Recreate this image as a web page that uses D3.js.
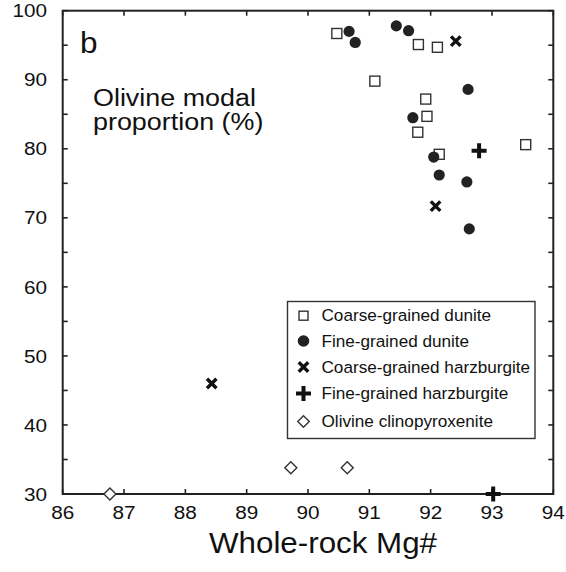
<!DOCTYPE html>
<html><head><meta charset="utf-8">
<script src="https://cdn.jsdelivr.net/npm/d3@7"></script>
<style>body{margin:0;background:#fff}svg{display:block}text{font-family:"Liberation Sans",Arial,sans-serif;fill:#111}</style>
</head><body>
<svg id="c" width="566" height="572"></svg>
<script>
// ---- data ----
const seriesNames = ["Coarse-grained dunite","Fine-grained dunite","Coarse-grained harzburgite","Fine-grained harzburgite","Olivine clinopyroxenite"];
const coarseDuniteX = [90.47, 91.80, 92.11, 91.09, 91.92, 91.94, 91.79, 92.14, 93.55];
const coarseDuniteY = [96.7, 95.1, 94.7, 89.8, 87.2, 84.7, 82.4, 79.2, 80.6];
const fineDuniteX = [90.67, 90.77, 91.44, 91.64, 92.61, 91.71, 92.05, 92.14, 92.59, 92.63];
const fineDuniteY = [97.0, 95.4, 97.8, 97.1, 88.6, 84.5, 78.8, 76.2, 75.2, 68.4];
const coarseHarzX = [92.41, 92.08, 88.43];
const coarseHarzY = [95.6, 71.7, 46.0];
const fineHarzX = [92.79, 93.02];
const fineHarzY = [79.7, 30.0];
const olCpxX = [86.77, 89.72, 90.64];
const olCpxY = [30.0, 33.8, 33.8];
const xTicks = [86, 87, 88, 89, 90, 91, 92, 93, 94];
const yTicks = [30, 40, 50, 60, 70, 80, 90, 100];
const yMinorTicks = [35, 45, 55, 65, 75, 85, 95];

const svg = d3.select("#c");
const L = 62.7, R = 553.3, T = 10.7, B = 494;
const x = d3.scaleLinear().domain([86, 94]).range([L, R]);
const y = d3.scaleLinear().domain([30, 100]).range([B, T]);
const ink = "#222";

// ticks (inward, all sides)
const tl = 5;
const tg = svg.append("g").attr("stroke", ink).attr("stroke-width", 1.6);
xTicks.forEach(v => {
  tg.append("line").attr("x1", x(v)).attr("x2", x(v)).attr("y1", B).attr("y2", B - tl);
  tg.append("line").attr("x1", x(v)).attr("x2", x(v)).attr("y1", T).attr("y2", T + tl);
});
yTicks.concat(yMinorTicks).forEach(v => {
  tg.append("line").attr("x1", L).attr("x2", L + tl).attr("y1", y(v)).attr("y2", y(v));
  tg.append("line").attr("x1", R).attr("x2", R - tl).attr("y1", y(v)).attr("y2", y(v));
});
// frame
svg.append("rect").attr("x", L).attr("y", T).attr("width", R - L).attr("height", B - T)
  .attr("fill", "none").attr("stroke", ink).attr("stroke-width", 2);

function stext(str, px, py, size, sx, anchor, extra) {
  const t = svg.append("text").text(str)
    .attr("transform", `translate(${px},${py}) scale(${sx},1)`)
    .attr("font-size", size).attr("text-anchor", anchor || "start");
  if (extra) t.attr("dy", extra);
  return t;
}
xTicks.forEach(v => stext(String(v), x(v), 518.5, 18.5, 1.12, "middle"));
yTicks.forEach(v => stext(String(v), 47, y(v), 18.5, 1.12, "end", "0.36em"));

stext("Whole-rock Mg#", 323, 553, 29, 1.08, "middle");
stext("b", 80, 53, 30, 1.05, "start");
stext("Olivine modal", 93, 106, 23, 1.17, "start");
stext("proportion (%)", 93, 130, 23, 1.17, "start");

// symbol drawers
function sq(g, cx, cy, s) { g.append("rect").attr("x", cx - s/2).attr("y", cy - s/2).attr("width", s).attr("height", s)
  .attr("fill", "#fff").attr("stroke", "#333").attr("stroke-width", 1.4); }
function circ(g, cx, cy, r) { g.append("circle").attr("cx", cx).attr("cy", cy).attr("r", r).attr("fill", "#222"); }
function cross(g, cx, cy, s) { const h = s/2; g.append("path").attr("d", `M${cx-h},${cy-h}L${cx+h},${cy+h}M${cx-h},${cy+h}L${cx+h},${cy-h}`)
  .attr("stroke", "#111").attr("stroke-width", 3.4).attr("fill", "none"); }
function plus(g, cx, cy, s) { const h = s/2; g.append("path").attr("d", `M${cx-h},${cy}L${cx+h},${cy}M${cx},${cy-h}L${cx},${cy+h}`)
  .attr("stroke", "#111").attr("stroke-width", 4).attr("fill", "none"); }
function dia(g, cx, cy, s) { const h = s/2; g.append("path").attr("d", `M${cx},${cy-h}L${cx+h},${cy}L${cx},${cy+h}L${cx-h},${cy}Z`)
  .attr("fill", "#fff").attr("stroke", "#333").attr("stroke-width", 1.4); }

const pg = svg.append("g");
olCpxX.forEach((v, i) => dia(pg, x(v), y(olCpxY[i]), 12));
coarseDuniteX.forEach((v, i) => sq(pg, x(v), y(coarseDuniteY[i]), 10));
fineDuniteX.forEach((v, i) => circ(pg, x(v), y(fineDuniteY[i]), 5.6));
coarseHarzX.forEach((v, i) => cross(pg, x(v), y(coarseHarzY[i]), 9.5));
fineHarzX.forEach((v, i) => plus(pg, x(v), y(fineHarzY[i]), 15));

// legend
const lg = svg.append("g");
lg.append("rect").attr("x", 287.5).attr("y", 301.5).attr("width", 247.5).attr("height", 137)
  .attr("fill", "#fff").attr("stroke", "#333").attr("stroke-width", 1.4);
const drawers = [(g,a,b)=>sq(g,a,b,9), (g,a,b)=>circ(g,a,b,5.8), (g,a,b)=>cross(g,a,b,9.5), (g,a,b)=>plus(g,a,b,15), (g,a,b)=>dia(g,a,b,11.5)];
const rowY = [315.7, 341, 367, 393.5, 421.5];
seriesNames.forEach((n, i) => {
  drawers[i](lg, 303.5, rowY[i]);
  stext(n, 321.5, rowY[i], 15.6, 1.1, "start", "0.36em");
});
</script>
</body></html>
